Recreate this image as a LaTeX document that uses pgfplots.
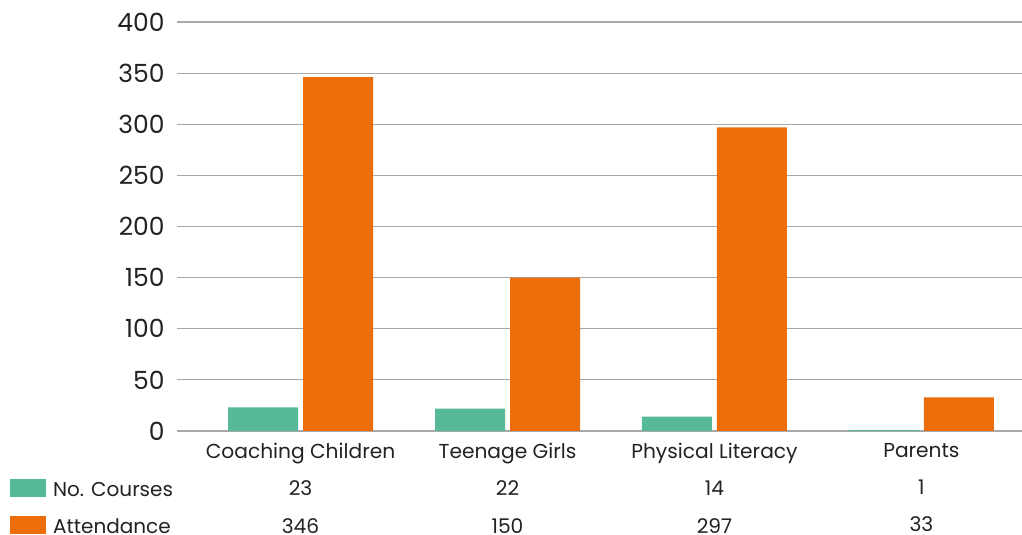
\documentclass[border=0pt]{standalone}
\usepackage{pgfplots}
\pgfplotsset{compat=1.18}
\usepackage{fontspec}
\setmainfont{Poppins}
\definecolor{teal1}{HTML}{55B99A}
\definecolor{orange1}{HTML}{EB6E0A}
\definecolor{gridc}{HTML}{A8A8A8}
\definecolor{txt}{HTML}{222222}
\begin{document}
\begin{tikzpicture}
\useasboundingbox (-88.5pt,-52pt) rectangle (422.5pt,215.5pt);
\begin{axis}[
  at={(0,0)}, anchor=south west,
  scale only axis, width=422.5pt, height=204.5pt,
  ybar=2.5pt, bar width=35pt,
  xmin=-0.597, xmax=3.486, ymin=0, ymax=400,
  ytick={0,50,...,400},
  xtick=data,
  xticklabels={{Coaching Children\\23\\346},{Teenage Girls\\22\\150},{Physical Literacy\\14\\297},{Parents\\1\\33}},
  xticklabel style={align=center, font=\fontsize{10.1}{18.6}\selectfont, text=txt, anchor=north, inner sep=0pt, yshift=-6pt},
  yticklabel style={font=\fontsize{12.5}{14}\selectfont, text=txt, anchor=east, inner sep=0pt, xshift=-6pt},
  /pgf/number format/assume math mode=true,
  major tick length=0pt,
  ymajorgrids, grid style={gridc, line width=0.6pt},
  axis y line*=left,
  y axis line style={draw=none},
  axis x line*=bottom,
  x axis line style={gridc, line width=1pt, -},
  clip=false,
  legend style={at={(-0.198,-0.1147)}, anchor=north west, draw=none, fill=none, inner sep=0pt,
    font=\fontsize{10}{12}\selectfont, text=txt, row sep=6.5pt, column sep=3.5pt,
    nodes={inner sep=0pt, text height=9pt, text depth=3pt}},
  legend cell align=left,
  legend image code/.code={\fill[#1] (0pt,-3.5pt) rectangle (18pt,5.5pt);},
]
\addplot[fill=teal1, draw=none] coordinates {(0,23) (1,22) (2,14) (3,1)};
\addplot[fill=orange1, draw=none] coordinates {(0,346) (1,150) (2,297) (3,33)};
\legend{No. Courses, Attendance}
\end{axis}
\end{tikzpicture}
\end{document}
